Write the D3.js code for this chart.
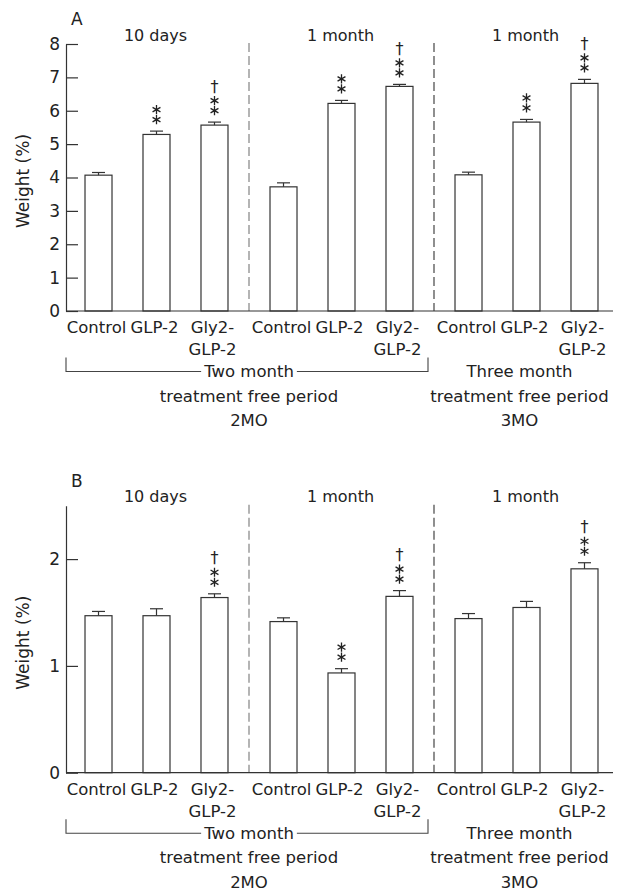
<!DOCTYPE html>
<html>
<head>
<meta charset="utf-8">
<script src="https://cdn.jsdelivr.net/npm/d3@7"></script>
<style>
  body { margin: 0; background: #fff; }
  svg text { font-family: "DejaVu Sans", sans-serif; fill: #222; }
</style>
</head>
<body>
<svg id="chart"></svg>
<script>
// data
var periods = ["10 days", "1 month", "1 month"];
var categories = ["Control", "GLP-2", "Gly2-GLP-2"];
var tickLines = [["Control"], ["GLP-2"], ["Gly2-", "GLP-2"]];

var weightA = [4.07, 5.29, 5.57, 3.72, 6.22, 6.73, 4.08, 5.66, 6.82];
var errorA  = [0.08, 0.10, 0.09, 0.12, 0.09, 0.06, 0.08, 0.08, 0.12];
var marksA  = ["", "**", "**†", "", "**", "**†", "", "**", "**†"];

var weightB = [1.47, 1.47, 1.64, 1.415, 0.934, 1.651, 1.443, 1.547, 1.909];
var errorB  = [0.04, 0.065, 0.035, 0.035, 0.04, 0.054, 0.047, 0.057, 0.057];
var marksB  = ["", "", "**†", "", "**", "**†", "", "", "**†"];

var groupLabels = [
  { text: ["Two month", "treatment free period", "2MO"], group: 1, bracket: true },
  { text: ["Three month", "treatment free period", "3MO"], group: 2, bracket: false }
];

var width = 619, height = 892,
    axisLeft = 66, axisRight = 613,
    barWidth = 27;

var svg = d3.select("#chart")
    .attr("width", width)
    .attr("height", height);

var xGroup = d3.scaleBand()
    .domain([0, 1, 2])
    .range([64, 619]);

var xBar = d3.scalePoint()
    .domain(categories)
    .range([0, xGroup.bandwidth()])
    .padding(0.595);

function barX(i) {
  return xGroup(Math.floor(i / 3)) + xBar(categories[i % 3]);
}

function drawPanel(top, letter, values, errors, marks, yMax, ticks) {
  var base = top + 267;
  var y = d3.scaleLinear().domain([0, yMax]).range([base, top]);
  var g = svg.append("g");

  // panel letter and period titles
  g.append("text").attr("x", 71).attr("y", top - 19)
    .attr("font-size", 17).text(letter);
  g.selectAll(".period")
    .data(periods)
    .enter().append("text")
    .attr("x", function(d, i) { return xGroup(i) + xGroup.bandwidth() / 2 - 1; })
    .attr("y", top - 3.5)
    .attr("text-anchor", "middle")
    .attr("font-size", 16)
    .text(function(d) { return d; });

  // dashed separators
  g.selectAll(".sep")
    .data([1, 2])
    .enter().append("line")
    .attr("x1", function(d) { return xGroup(d); })
    .attr("x2", function(d) { return xGroup(d); })
    .attr("y1", top - 1)
    .attr("y2", base)
    .attr("stroke", function(d) { return d == 1 ? "#777" : "#333"; })
    .attr("stroke-width", 1.1)
    .attr("stroke-dasharray", "9,4");

  // bars
  g.selectAll(".bar")
    .data(values)
    .enter().append("rect")
    .attr("x", function(d, i) { return barX(i) - barWidth / 2; })
    .attr("y", function(d) { return y(d); })
    .attr("width", barWidth)
    .attr("height", function(d) { return base - y(d); })
    .attr("fill", "#fff")
    .attr("stroke", "#333")
    .attr("stroke-width", 1.2);

  // error bars
  var err = g.selectAll(".err")
    .data(values)
    .enter().append("g");
  err.append("line")
    .attr("x1", function(d, i) { return barX(i); })
    .attr("x2", function(d, i) { return barX(i); })
    .attr("y1", function(d) { return y(d); })
    .attr("y2", function(d, i) { return y(d + errors[i]); })
    .attr("stroke", "#333").attr("stroke-width", 1.2);
  err.append("line")
    .attr("x1", function(d, i) { return barX(i) - 6.5; })
    .attr("x2", function(d, i) { return barX(i) + 6.5; })
    .attr("y1", function(d, i) { return y(d + errors[i]); })
    .attr("y2", function(d, i) { return y(d + errors[i]); })
    .attr("stroke", "#333").attr("stroke-width", 1.2);

  // significance marks
  var star = d3.symbol().type(d3.symbolAsterisk).size(58);
  marks.forEach(function(m, i) {
    if (!m) return;
    var cx = barX(i), cap = y(values[i] + errors[i]);
    var stars = m.replace("†", "").length;
    for (var k = 0; k < stars; k++) {
      g.append("path")
        .attr("d", star)
        .attr("transform", "translate(" + cx + "," + (cap - 11.5 - 10 * k) + ")")
        .attr("fill", "none")
        .attr("stroke", "#222")
        .attr("stroke-width", 1.3);
    }
    if (m.indexOf("†") >= 0) {
      g.append("text")
        .attr("x", cx)
        .attr("y", cap - 11.5 - 10 * (stars - 1) - 9)
        .attr("text-anchor", "middle")
        .attr("font-size", 16)
        .text("†");
    }
  });

  // y axis
  var yAxis = d3.axisLeft(y).tickValues(ticks).tickSize(-12).tickSizeOuter(0).tickPadding(6)
    .tickFormat(d3.format("d"));
  var ya = g.append("g").attr("transform", "translate(" + axisLeft + ",0)").call(yAxis);
  ya.selectAll("text").attr("font-size", 17).attr("fill", "#222");
  ya.selectAll("line, path").attr("stroke", "#333").attr("stroke-width", 1.2);

  g.append("text")
    .attr("transform", "translate(29," + (top + 137) + ") rotate(-90)")
    .attr("text-anchor", "middle")
    .attr("font-size", 17)
    .text("Weight (%)");

  // x axis line
  g.append("line")
    .attr("x1", axisLeft).attr("x2", axisRight)
    .attr("y1", base).attr("y2", base)
    .attr("stroke", "#333").attr("stroke-width", 1.2);

  // category labels
  var cat = g.selectAll(".cat")
    .data(d3.range(9))
    .enter().append("text")
    .attr("text-anchor", "middle")
    .attr("font-size", 16.5);
  cat.each(function(i) {
    var t = d3.select(this);
    var lines = tickLines[i % 3];
    lines.forEach(function(s, k) {
      t.append("tspan")
        .attr("x", barX(i) - 2)
        .attr("y", base + 22 + 22 * k)
        .text(s);
    });
  });

  // period labels and bracket
  groupLabels.forEach(function(gl) {
    var cx = xGroup(gl.group) + (gl.bracket ? 0 : xGroup.bandwidth() / 2 - 7);
    var texts = gl.text.map(function(s, k) {
      return g.append("text")
        .attr("x", cx)
        .attr("y", base + 66 + 24.5 * k)
        .attr("text-anchor", "middle")
        .attr("font-size", 16.5)
        .text(s);
    });
    if (gl.bracket) {
      var w = texts[0].node().getComputedTextLength();
      var by = base + 60.5, bx1 = axisLeft, bx2 = xGroup(2) - 6;
      g.append("path")
        .attr("d", "M" + bx1 + "," + (by - 14) + "V" + by + "H" + (cx - w / 2 - 3) +
                   "M" + (cx + w / 2 + 3) + "," + by + "H" + bx2 + "V" + (by - 14))
        .attr("fill", "none")
        .attr("stroke", "#444")
        .attr("stroke-width", 1.1);
    }
  });
}

drawPanel(44, "A", weightA, errorA, marksA, 8, d3.range(0, 9));
drawPanel(505.7, "B", weightB, errorB, marksB, 2.5, [0, 1, 2]);
</script>
</body>
</html>
